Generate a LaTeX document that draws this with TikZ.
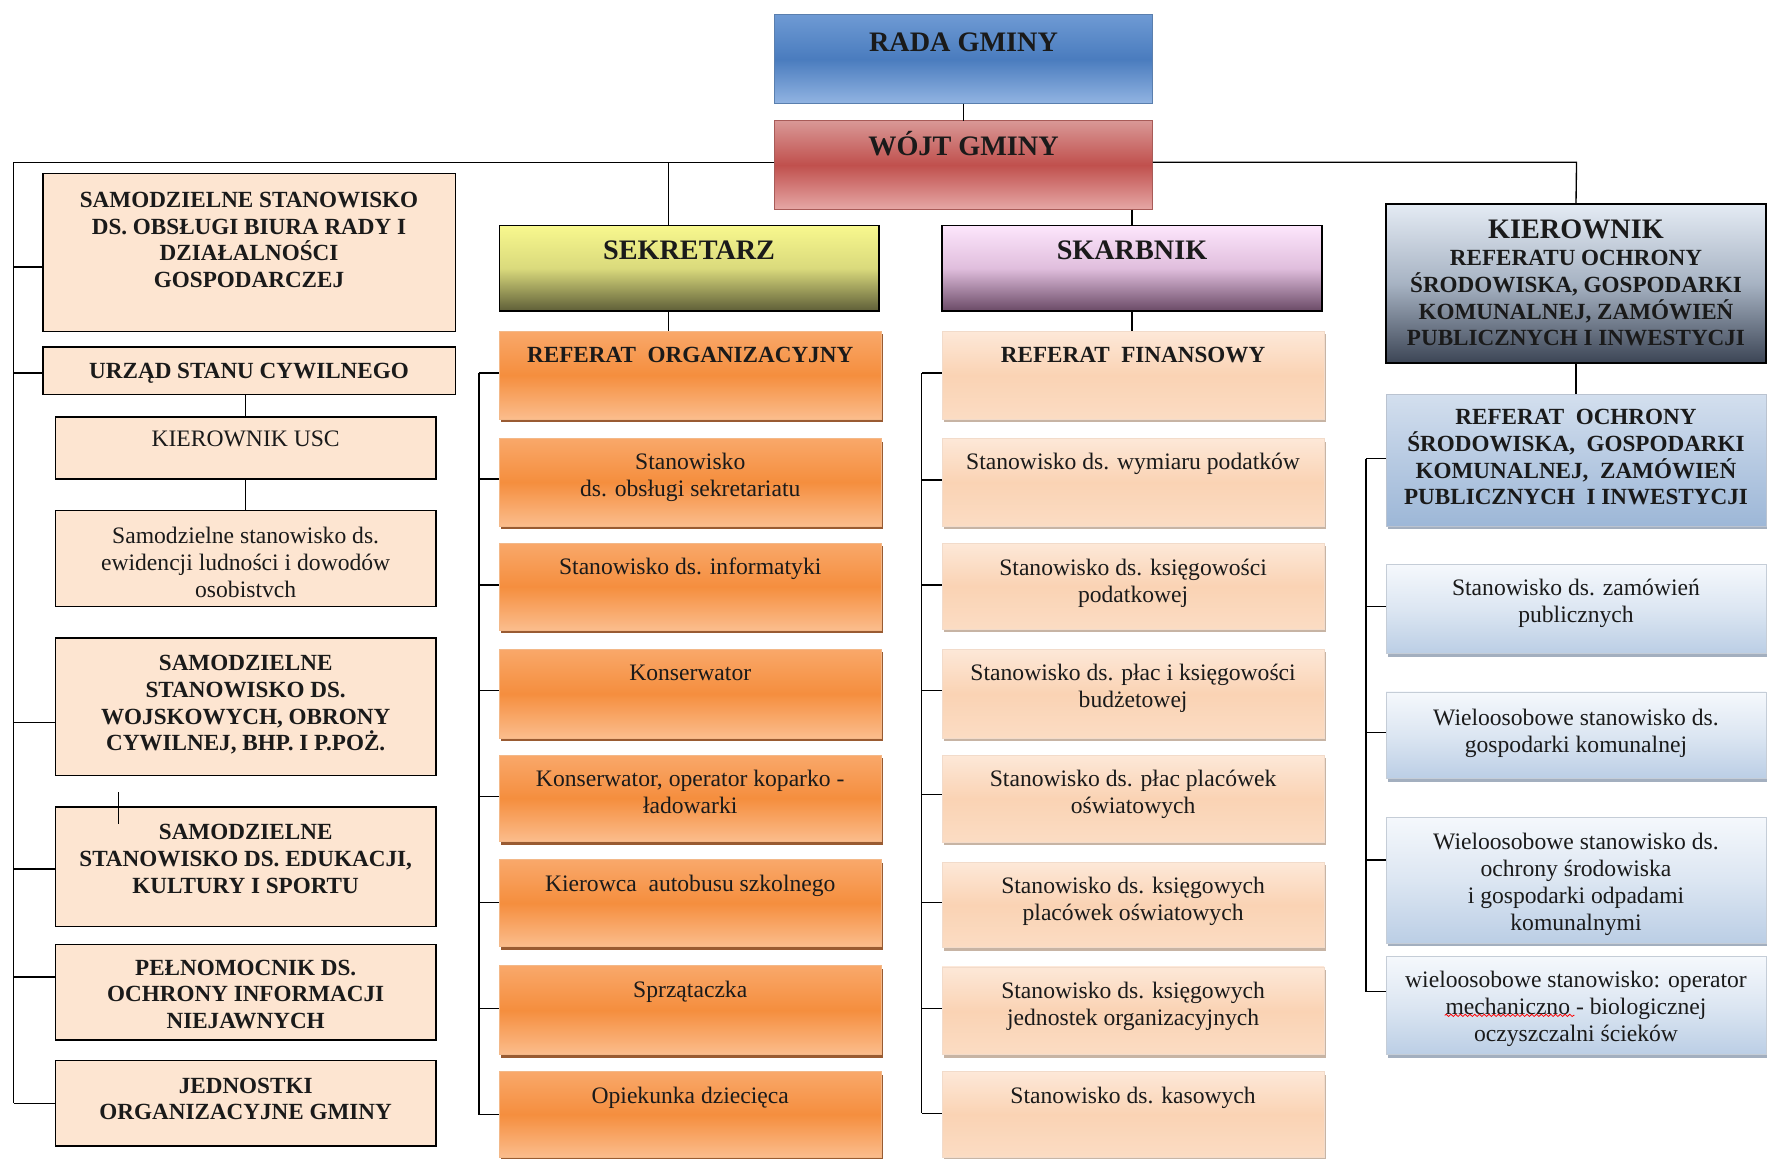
\documentclass[tikz,border=0pt]{standalone}
\usepackage{fontspec}
\setmainfont{Liberation Serif}
\usetikzlibrary{shadows,decorations.pathmorphing}
\definecolor{radaT}{HTML}{6E9AD4}\definecolor{radaM}{HTML}{4A7CBE}\definecolor{radaB}{HTML}{92B4E2}\definecolor{radaE}{HTML}{5A7FAE}
\definecolor{wojtT}{HTML}{D99896}\definecolor{wojtM}{HTML}{C0504D}\definecolor{wojtB}{HTML}{E6A8A6}\definecolor{wojtE}{HTML}{A85B58}
\definecolor{sekT}{HTML}{F8F88E}\definecolor{sekM}{HTML}{DADA7C}\definecolor{sekB}{HTML}{5E5E38}
\definecolor{skaT}{HTML}{FDE6FC}\definecolor{skaM}{HTML}{E0BEDD}\definecolor{skaB}{HTML}{6A4A66}
\definecolor{kieT}{HTML}{E4EBF4}\definecolor{kieM}{HTML}{A7B3C3}\definecolor{kieB}{HTML}{3C4555}
\definecolor{orT}{HTML}{F9A86A}\definecolor{orM}{HTML}{F58E3E}\definecolor{orB}{HTML}{FBBD8D}\definecolor{orE}{HTML}{F3B888}\definecolor{orS}{HTML}{8E4A1C}
\definecolor{peT}{HTML}{FDE8D8}\definecolor{peM}{HTML}{FAD3B4}\definecolor{peB}{HTML}{FBDCC3}\definecolor{peS}{HTML}{B9A28E}
\definecolor{lpe}{HTML}{FDE5D1}
\definecolor{roT}{HTML}{D3DFEE}\definecolor{roM}{HTML}{B7CAE2}\definecolor{roB}{HTML}{9DB7D7}
\definecolor{blT}{HTML}{F5F8FC}\definecolor{blM}{HTML}{DCE6F2}\definecolor{blB}{HTML}{BBCEE5}\definecolor{blS}{HTML}{8C9BB0}
\definecolor{ink}{HTML}{1A1A1A}
\newlength\uu
\setlength\uu{0.025cm}
\newcommand\fT{\fontsize{17.8pt}{21pt}\selectfont\bfseries}
\newcommand\fB{\fontsize{14.6pt}{16.9pt}\selectfont\bfseries}
\newcommand\fR{\fontsize{14.9pt}{17pt}\selectfont}
% [first baseline]{name}{x1}{y1}{x2}{y2}{style}{text}
\newcommand\bx[8][20pt]{%
  \node[#7, anchor=north west, inner sep=0pt, outer sep=0pt] (#2) at (#3,#4)
  {\begin{minipage}[t][\dimexpr\uu*\numexpr#6-#4\relax\relax][t]{\dimexpr\uu*\numexpr#5-#3\relax\relax}%
   \centering\rule{0pt}{#1}#8\par\end{minipage}};}
\begin{document}
\begin{tikzpicture}[x=0.025cm, y=-0.025cm, text=ink,
  conn/.style={draw=black, line width=0.85pt},
  radabox/.style={draw=radaE, line width=0.6pt, top color=radaT, bottom color=radaB, middle color=radaM, font=\fT},
  wojtbox/.style={draw=wojtE, line width=0.6pt, top color=wojtT, bottom color=wojtB, middle color=wojtM, font=\fT},
  sekbox/.style={draw=black, line width=0.9pt, top color=sekT, bottom color=sekB, middle color=sekM, font=\fT},
  skabox/.style={draw=black, line width=0.9pt, top color=skaT, bottom color=skaB, middle color=skaM, font=\fT},
  kiebox/.style={draw=black, line width=0.9pt, top color=kieT, bottom color=kieB, middle color=kieM, font=\fB},
  lboxB/.style={draw=black, line width=0.9pt, fill=lpe, font=\fB},
  lboxR/.style={draw=black, line width=0.9pt, fill=lpe, font=\fR},
  orbox/.style={draw=orE, line width=0.5pt, top color=orT, bottom color=orB, middle color=orM,
     drop shadow={shadow xshift=1.3pt, shadow yshift=-2pt, fill=orS, opacity=0.9}, font=\fR},
  pebox/.style={draw=peM!80!black!20!peT, line width=0.4pt, top color=peT, bottom color=peB, middle color=peM,
     drop shadow={shadow xshift=1.3pt, shadow yshift=-2pt, fill=peS, opacity=0.8}, font=\fR},
  robox/.style={draw=blS!60, line width=0.4pt, top color=roT, bottom color=roB, middle color=roM,
     drop shadow={shadow xshift=1.3pt, shadow yshift=-2pt, fill=blS, opacity=0.8}, font=\fB},
  blbox/.style={draw=blS!50, line width=0.4pt, top color=blT, bottom color=blB, middle color=blM,
     drop shadow={shadow xshift=1.3pt, shadow yshift=-2pt, fill=blS, opacity=0.8}, font=\fR}
]
\fill[white] (0,0) rectangle (1568,1028);
\useasboundingbox (0,0) rectangle (1568,1028);

% top
\bx[23.5pt]{rada}{687}{13}{1023}{92}{radabox}{RADA GMINY}
\bx[22pt]{wojt}{687}{107}{1023}{186}{wojtbox}{WÓJT GMINY}

% left column
\bx[21.3pt]{b1}{38}{154}{404}{294}{lboxB}{SAMODZIELNE STANOWISKO\\DS. OBSŁUGI BIURA RADY I\\DZIAŁALNOŚCI\\GOSPODARCZEJ}
\bx[19.5pt]{b2}{38}{308}{404}{350}{lboxB}{URZĄD STANU CYWILNEGO}
\bx[18.5pt]{b3}{49}{370}{387}{425}{lboxR}{KIEROWNIK USC}
\bx[21pt]{b4}{49}{453}{387}{538}{lboxR}{Samodzielne stanowisko ds.\\ewidencji ludności i dowodów\\osobistvch}
\bx[20.6pt]{b5}{49}{566}{387}{688}{lboxB}{SAMODZIELNE\\STANOWISKO DS.\\WOJSKOWYCH, OBRONY\\CYWILNEJ, BHP. I P.POŻ.}
\bx[20.6pt]{b6}{49}{716}{387}{822}{lboxB}{SAMODZIELNE\\STANOWISKO DS. EDUKACJI,\\KULTURY I SPORTU}
\bx[19.4pt]{b7}{49}{838}{387}{923}{lboxB}{PEŁNOMOCNIK DS.\\OCHRONY INFORMACJI\\NIEJAWNYCH}
\bx[20.6pt]{b8}{49}{941}{387}{1017}{lboxB}{JEDNOSTKI\\ORGANIZACYJNE GMINY}

% sekretarz column
\bx[21.3pt]{sek}{443}{200}{780}{276}{sekbox}{SEKRETARZ}
\bx[19.4pt]{refo}{443}{294}{782}{372}{orbox,font=\fB}{REFERAT~ ORGANIZACYJNY}
\bx[19.8pt]{o1}{443}{389}{782}{467}{orbox}{Stanowisko\\ds. obsługi sekretariatu}
\bx[19.8pt]{o2}{443}{482}{782}{559}{orbox}{Stanowisko ds. informatyki}
\bx[19.8pt]{o3}{443}{576}{782}{655}{orbox}{Konserwator}
\bx[19.8pt]{o4}{443}{670}{782}{747}{orbox}{Konserwator, operator koparko -\\ładowarki}
\bx[19.8pt]{o5}{443}{763}{782}{840}{orbox}{Kierowca~ autobusu szkolnego}
\bx[19.8pt]{o6}{443}{857}{782}{936}{orbox}{Sprzątaczka}
\bx[19.8pt]{o7}{443}{951}{782}{1027}{orbox}{Opiekunka dziecięca}

% skarbnik column
\bx[21.3pt]{ska}{836}{200}{1173}{276}{skabox}{SKARBNIK}
\bx[19.4pt]{reff}{836}{294}{1175}{372}{pebox,font=\fB}{REFERAT~ FINANSOWY}
\bx[19.8pt]{f1}{836}{389}{1175}{467}{pebox}{Stanowisko ds. wymiaru podatków}
\bx[20.4pt]{f2}{836}{482}{1175}{558}{pebox}{Stanowisko ds. księgowości\\podatkowej}
\bx[19.8pt]{f3}{836}{576}{1175}{655}{pebox}{Stanowisko ds. płac i księgowości\\budżetowej}
\bx[19.8pt]{f4}{836}{670}{1175}{747}{pebox}{Stanowisko ds. płac placówek\\oświatowych}
\bx[19.8pt]{f5}{836}{765}{1175}{841}{pebox}{Stanowisko ds. księgowych\\placówek oświatowych}
\bx[19.8pt]{f6}{836}{858}{1175}{936}{pebox}{Stanowisko ds. księgowych\\jednostek organizacyjnych}
\bx[19.8pt]{f7}{836}{951}{1175}{1027}{pebox}{Stanowisko ds. kasowych}

% right column
\bx[22pt]{kier}{1230}{181}{1567}{322}{kiebox}{{\fT KIEROWNIK}\\REFERATU OCHRONY\\ŚRODOWISKA, GOSPODARKI\\KOMUNALNEJ, ZAMÓWIEŃ\\PUBLICZNYCH I INWESTYCJI}
\bx[19pt]{ro}{1230}{350}{1567}{467}{robox}{REFERAT~ OCHRONY\\ŚRODOWISKA,~ GOSPODARKI\\KOMUNALNEJ,~ ZAMÓWIEŃ\\PUBLICZNYCH~ I INWESTYCJI}
\bx[19.8pt]{r1}{1230}{501}{1567}{580}{blbox}{Stanowisko ds. zamówień\\publicznych}
\bx[21pt]{r2}{1230}{614}{1567}{691}{blbox}{Wieloosobowe stanowisko ds.\\gospodarki komunalnej}
\bx[20.4pt]{r3}{1230}{725}{1567}{837}{blbox}{Wieloosobowe stanowisko ds.\\ochrony środowiska\\i gospodarki odpadami\\komunalnymi}
\bx[19.2pt]{r4}{1230}{849}{1567}{936}{blbox}{wieloosobowe stanowisko: operator\\mechaniczno - biologicznej\\oczyszczalni ścieków}

% spell-check squiggle under "mechaniczno"
\coordinate (sq1) at (1282,901);
\coordinate (sq2) at (1397,901);
\draw[red, line width=0.5pt, decorate, decoration={snake, amplitude=0.7pt, segment length=3pt}] (sq1) -- (sq2);

% connectors: top
\coordinate (hl) at (12,144);
\coordinate (hr) at (1399,144);
\coordinate (hs) at (593,144);
\draw[conn] (rada.south) -- (wojt.north);
\draw[conn] (wojt.west |- hl) -- (hl);
\draw[conn] (wojt.east |- hr) -- (hr) -- (kier.north);
\draw[conn] (hs) -- (hs |- sek.north);
\draw[conn] (hs |- sek.south) -- (hs |- refo.north);
\draw[conn] (wojt.south -| ska.north) -- (ska.north);
\draw[conn] (ska.south) -- (ska.south |- reff.north);
\draw[conn] (kier.south) -- (ro.north);

% left bus
\coordinate (lb1) at (12,237);
\coordinate (lb2) at (12,331);
\coordinate (lb5) at (12,641);
\coordinate (lb6) at (12,771);
\coordinate (lb7) at (12,867);
\coordinate (lb8) at (12,979);
\draw[conn] (hl) -- (lb8);
\foreach \i in {1,2,5,6,7,8} { \draw[conn] (lb\i) -- (lb\i -| b\i.west); }
\draw[conn] (b3.north |- b2.south) -- (b3.north);
\draw[conn] (b3.south) -- (b4.north);
\coordinate (tk) at (105,703);
\draw[conn, line width=0.7pt] (tk) -- ++(0,28);

% sekretarz bus
\coordinate (mb0) at (425,331);
\coordinate (mb1) at (425,425);
\coordinate (mb2) at (425,519);
\coordinate (mb3) at (425,613);
\coordinate (mb4) at (425,707);
\coordinate (mb5) at (425,801);
\coordinate (mb6) at (425,895);
\coordinate (mb7) at (425,989);
\draw[conn] (mb0) -- (mb7);
\draw[conn] (mb0) -- (mb0 -| refo.west);
\foreach \i in {1,...,7} { \draw[conn] (mb\i) -- (mb\i -| o\i.west); }

% skarbnik bus
\coordinate (fb0) at (818,331);
\coordinate (fb1) at (818,426);
\coordinate (fb2) at (818,519);
\coordinate (fb3) at (818,613);
\coordinate (fb4) at (818,705);
\coordinate (fb5) at (818,801);
\coordinate (fb6) at (818,895);
\coordinate (fb7) at (818,988);
\draw[conn] (fb0) -- (fb7);
\draw[conn] (fb0) -- (fb0 -| reff.west);
\foreach \i in {1,...,7} { \draw[conn] (fb\i) -- (fb\i -| f\i.west); }

% right bus
\coordinate (rb0) at (1212,407);
\coordinate (rb1) at (1212,538);
\coordinate (rb2) at (1212,650);
\coordinate (rb3) at (1212,763);
\coordinate (rb4) at (1212,880);
\draw[conn] (rb0) -- (rb4);
\draw[conn] (rb0) -- (rb0 -| ro.west);
\foreach \i in {1,...,4} { \draw[conn] (rb\i) -- (rb\i -| r\i.west); }
\end{tikzpicture}
\end{document}
